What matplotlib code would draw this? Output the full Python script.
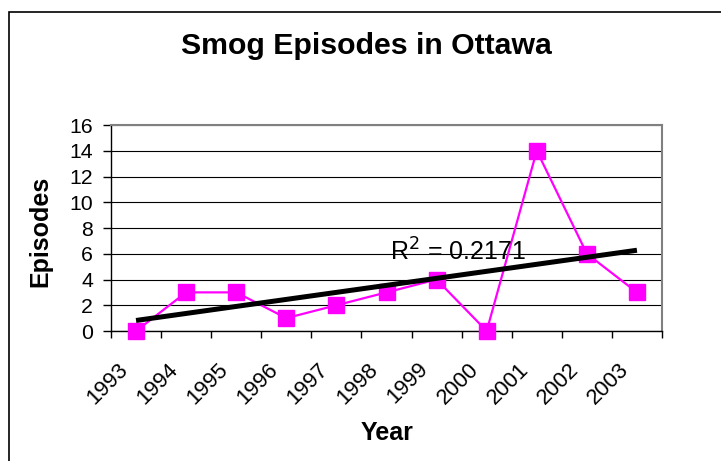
import numpy as np
import matplotlib
matplotlib.use("Agg")
from matplotlib import pyplot as plt
from matplotlib.patches import Rectangle
import matplotlib.transforms as mtransforms

plt.rcParams["font.family"] = ["Liberation Sans", "DejaVu Sans"]

years = ["1993", "1994", "1995", "1996", "1997", "1998",
         "1999", "2000", "2001", "2002", "2003"]
episodes = [0, 3, 3, 1, 2, 3, 4, 0, 14, 6, 3]

series_color = "#FF00FF"

fig = plt.figure(figsize=(7.21, 4.61), dpi=100)
fig.patches.append(Rectangle((9 / 721, -0.1), 1.2, 1 - 12 / 461 + 0.1,
                             transform=fig.transFigure, fill=False,
                             edgecolor="black", linewidth=1.2))

ax = fig.add_axes([111 / 721, 1 - 331 / 461, 551 / 721, 206 / 461])

x = np.arange(len(years))
y = np.array(episodes, dtype=float)

ax.plot(x, y, color=series_color, linewidth=1.6, marker="s",
        markersize=11.5, markeredgecolor=series_color, clip_on=False, zorder=3)

# linear trend line and its R^2
slope, intercept = np.polyfit(x, y, 1)
fit = slope * x + intercept
r2 = 1 - np.sum((y - fit) ** 2) / np.sum((y - y.mean()) ** 2)
ax.plot(x, fit, color="black", linewidth=3.6, solid_capstyle="butt", zorder=4)
ax.text(6.42, 6.1, "R$^2$ = %.4f" % r2, fontsize=18, ha="center", va="center",
        zorder=5)

ax.set_xlim(-0.5, len(years) - 0.5)
ax.set_ylim(0, 16)
ax.set_yticks(np.arange(0, 17, 2))
ax.yaxis.grid(True, color="black", linewidth=0.8)
ax.set_axisbelow(True)

ax.set_xticks(np.arange(-0.5, len(years), 1.0))
ax.set_xticklabels([])
ax.set_xticks(x, minor=True)
ax.set_xticklabels(years, minor=True, rotation=45, ha="right", va="top",
                   fontsize=15.8)
ax.tick_params(axis="x", which="minor", length=0, pad=20)
ax.tick_params(axis="x", which="major", length=5, width=1)
ax.tick_params(axis="y", length=6, width=1, labelsize=15.3, pad=7)

shift = mtransforms.ScaledTranslation(-4 / 100, 0, fig.dpi_scale_trans)
for lab in ax.get_xticklabels(minor=True):
    lab.set_transform(lab.get_transform() + shift)

for side in ("top", "right"):
    ax.spines[side].set_color("#808080")
    ax.spines[side].set_linewidth(1.5)
for side in ("left", "bottom"):
    ax.spines[side].set_color("black")
    ax.spines[side].set_linewidth(1)

ax.set_xlabel("Year", fontsize=18, fontweight="bold")
ax.xaxis.set_label_coords((387 - 111) / 551, -(433 - 331) / 206)
ax.xaxis.label.set_va("center")
ax.set_ylabel("Episodes", fontsize=18, fontweight="bold")
ax.yaxis.set_label_coords(-(111 - 40) / 551, (331 - 231) / 206)
ax.yaxis.label.set_va("center")
fig.text(366 / 721, 1 - 46 / 461, "Smog Episodes in Ottawa", fontsize=21.8,
         fontweight="bold", ha="center", va="center")

fig.savefig("out.png", dpi=100)
